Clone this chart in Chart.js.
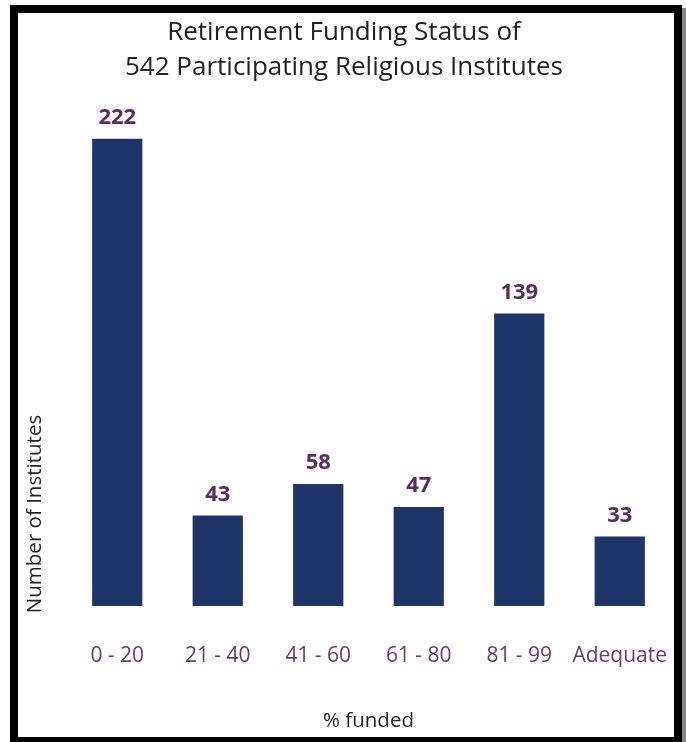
<!DOCTYPE html>
<html>
<head>
<meta charset="utf-8">
<script src="https://cdn.jsdelivr.net/npm/chart.js@4"></script>
<style>
  body { margin: 0; background: #fff; }
  #wrap { width: 686px; height: 742px; position: relative; }
</style>
</head>
<body>
<div id="wrap"><canvas id="funding_chart" width="686" height="742"></canvas></div>
<script>
var categories = ['0 - 20', '21 - 40', '41 - 60', '61 - 80', '81 - 99', 'Adequate'];
var institutes = [222, 43, 58, 47, 139, 33];
var titleLines = ['Retirement Funding Status of', '542 Participating Religious Institutes'];

var barColor = '#1f3468';
var labelPurple = '#5a2c62';
var tickPurple = '#6a3b6e';
var FONT = "'Open Sans', 'Noto Sans', sans-serif";

// black picture frame round the chart
var framePlugin = {
  id: 'frame',
  beforeDraw: function(chart) {
    var ctx = chart.ctx;
    ctx.save();
    ctx.fillStyle = '#fff';
    ctx.fillRect(0, 0, chart.width, chart.height);
    ctx.fillStyle = '#888';
    ctx.fillRect(682, 8, 4, 734);
    ctx.strokeStyle = '#000';
    ctx.lineWidth = 8;
    ctx.strokeRect(14, 9, 664, 732);
    ctx.restore();
  }
};

// value labels above the bars + rotated y title
var labelPlugin = {
  id: 'barLabels',
  afterDatasetsDraw: function(chart) {
    var ctx = chart.ctx;
    var meta = chart.getDatasetMeta(0);
    ctx.save();
    ctx.fillStyle = labelPurple;
    ctx.font = 'bold 22px ' + FONT;
    ctx.textAlign = 'center';
    ctx.textBaseline = 'middle';
    meta.data.forEach(function(bar, i) {
      ctx.fillText(institutes[i], bar.x, bar.y - 21);
    });
    ctx.fillStyle = '#222';
    ctx.font = '20.5px ' + FONT;
    ctx.translate(35, 514);
    ctx.rotate(-Math.PI / 2);
    ctx.fillText('Number of Institutes', 0, 0);
    ctx.restore();
  }
};

var fundingChart = new Chart('funding_chart', {
  type: 'bar',
  data: {
    labels: categories,
    datasets: [{
      label: 'Institutes',
      data: institutes,
      backgroundColor: barColor,
      categoryPercentage: 1,
      barPercentage: 0.5
    }]
  },
  options: {
    responsive: false,
    animation: false,
    layout: { padding: { top: 13, left: 18, right: 16, bottom: 4.7 } },
    plugins: {
      legend: { display: false },
      tooltip: { enabled: false },
      title: {
        display: true,
        text: titleLines,
        color: '#222',
        font: { family: FONT, size: 26, weight: 'normal', lineHeight: 1.346 },
        padding: { top: 2.5, bottom: 15.5 }
      }
    },
    scales: {
      x: {
        grid: { display: false, drawTicks: false },
        border: { display: false },
        ticks: {
          color: tickPurple,
          padding: 37,
          maxRotation: 0,
          minRotation: 0,
          autoSkip: false,
          font: { family: FONT, size: 21 }
        },
        title: {
          display: true,
          text: '% funded',
          color: '#222',
          font: { family: FONT, size: 20.5 },
          padding: { top: 3.5, bottom: 4 }
        },
        afterFit: function(scale) {
          scale.paddingLeft = 0;
          scale.paddingRight = 0;
        }
      },
      y: {
        min: 0,
        max: 240,
        grid: { display: false, drawTicks: false },
        border: { display: false },
        ticks: { display: false },
        afterFit: function(scale) {
          scale.width = 49;
        }
      }
    }
  },
  plugins: [framePlugin, labelPlugin]
});
</script>
</body>
</html>
